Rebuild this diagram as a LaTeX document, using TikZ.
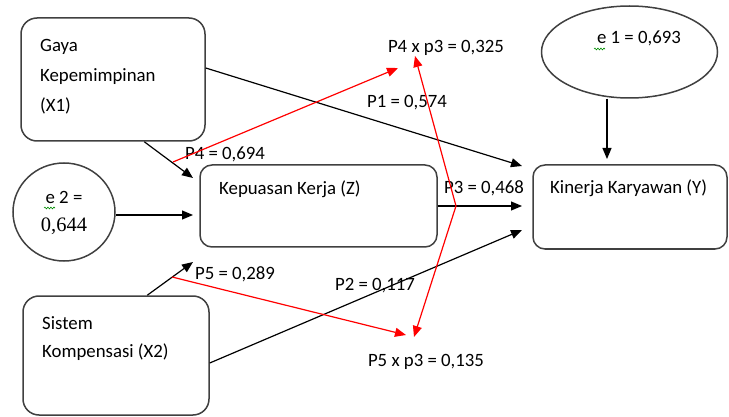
\documentclass[tikz,border=0pt]{standalone}
\usepackage{fontspec}
\setmainfont{Carlito}
\newfontfamily\numserif{Liberation Serif}
\usetikzlibrary{arrows.meta,shapes.geometric,decorations.pathmorphing}
\tikzset{
  box/.style={draw=black!75, line width=1.5pt, rounded corners=16pt, inner sep=0pt},
  oval/.style={ellipse, draw=black!75, line width=1.5pt, inner sep=0pt},
  arr/.style={-{Triangle[length=11pt,width=9pt]}, line width=1.2pt, black},
  rarr/.style={-{Triangle[length=11pt,width=9pt]}, line width=1.2pt, red},
  lbl/.style={inner sep=0pt, font=\fontsize{18.8}{22}\selectfont, text=black},
  squig/.style={draw=green!55!black, line width=0.6pt, decorate, decoration={snake, amplitude=0.9pt, segment length=3pt}}
}
\begin{document}
\begin{tikzpicture}[x=1pt,y=-1pt]
\useasboundingbox (0,0) rectangle (729,417);
% boxes
\node[box, minimum width=184pt, minimum height=123pt] (X1) at (113,79.5) {};
\node[box, rounded corners=12pt, minimum width=237pt, minimum height=82pt] (Z) at (318.5,206) {};
\node[box, rounded corners=12pt, minimum width=194pt, minimum height=84pt] (Y) at (630,207) {};
\node[box, minimum width=186pt, minimum height=119pt] (X2) at (116,355.5) {};
\node[oval, minimum width=176pt, minimum height=92pt] (e1) at (629.5,52) {};
\node[oval, minimum width=102pt, minimum height=98pt] (e2) at (64,212) {};
% texts
\node[lbl, anchor=mid west] (tx1a) at (40,49) {Gaya};
\node[lbl, anchor=mid west] (tx1b) at (40,79) {Kepemimpinan};
\node[lbl, anchor=mid west] (tx1c) at (40,109) {(X1)};
\node[lbl, anchor=mid west] (tx2a) at (42,327) {Sistem};
\node[lbl, anchor=mid west] (tx2b) at (42,355) {Kompensasi (X2)};
\node[lbl, anchor=mid west] (tz) at (219,192) {Kepuasan Kerja (Z)};
\node[lbl, anchor=mid west] (ty) at (550,191) {Kinerja Karyawan (Y)};
\node[lbl, anchor=mid] (te1) at (639,41) {e 1 = 0,693};
\node[lbl, anchor=mid] (te2a) at (64,201) {e 2 =};
\node[lbl, anchor=mid, font=\numserif\fontsize{20.5}{24}\selectfont] (te2b) at (64,229) {0,644};
\node[lbl, anchor=mid] (p4p3) at (446,50) {P4 x p3 = 0,325};
\node[lbl, anchor=mid] (p1) at (407,105) {P1 = 0,574};
\node[lbl, anchor=mid] (p4) at (225,157) {P4 = 0,694};
\node[lbl, anchor=mid] (p3) at (484,191) {P3 = 0,468};
\node[lbl, anchor=mid] (p5) at (235,277) {P5 = 0,289};
\node[lbl, anchor=mid] (p2) at (375,288) {P2 = 0,117};
\node[lbl, anchor=mid] (p5p3) at (426,364) {P5 x p3 = 0,135};
% squiggles
\draw[squig] (594,49) -- (605,49);
\draw[squig] (44,208) -- (55,208);
% arrow target coordinates
\coordinate (tZa) at (193,178);
\coordinate (tZb) at (193,215);
\coordinate (tZc) at (193,262);
\coordinate (tYa) at (522,166);
\coordinate (tYb) at (522,206);
\coordinate (tYc) at (522,230);
\coordinate (tYd) at (607,159);
% black arrows
\draw[arr] ([xshift=124pt]X1.south west) -- (tZa);
\draw[arr] (e2.east |- tZb) -- (tZb);
\draw[arr] ([xshift=125pt]X2.north west) -- (tZc);
\draw[arr] ([yshift=11.5pt]X1.east) -- (tYa);
\draw[arr] (Z.east) -- (tYb);
\draw[arr] ([yshift=-7.5pt]X2.east) -- (tYc);
\draw[arr] (e1.south -| tYd) -- (tYd);
% red arrows
\coordinate (r1s) at (173,162);
\coordinate (r1t) at (398,68);
\coordinate (r2s) at (172,277);
\coordinate (r2t) at (406,335);
\coordinate (rk) at (456,206);
\coordinate (r3a) at (415,56);
\coordinate (r3b) at (414,337);
\draw[rarr] (r1s) -- (r1t);
\draw[rarr] (r2s) -- (r2t);
\draw[rarr] (rk) -- (r3a);
\draw[rarr] (rk) -- (r3b);
\end{tikzpicture}
\end{document}
